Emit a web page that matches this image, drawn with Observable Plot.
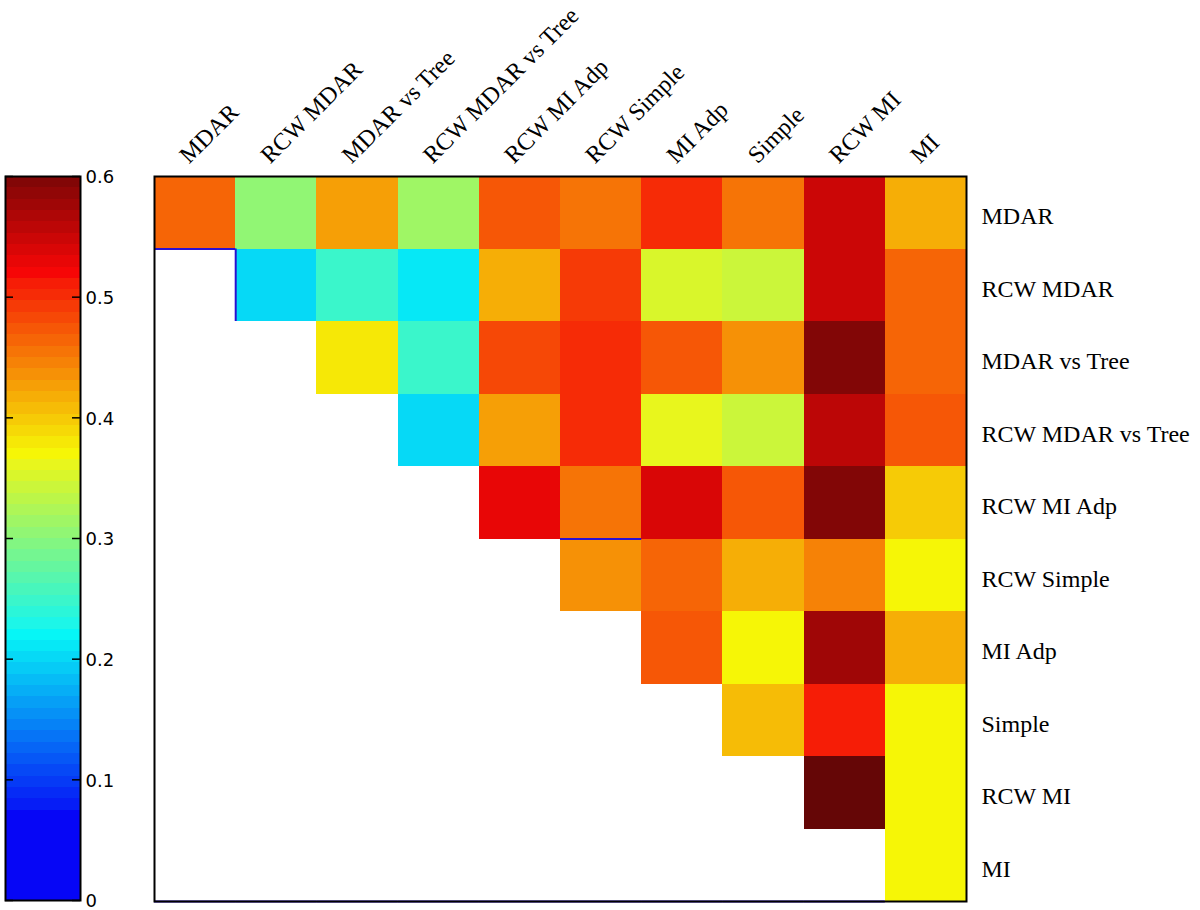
<!DOCTYPE html>
<html>
<head>
<meta charset="utf-8">
<script src="https://cdn.jsdelivr.net/npm/d3@7"></script>
<script src="https://cdn.jsdelivr.net/npm/@observablehq/plot@0.6"></script>
<style>
  html, body { margin: 0; padding: 0; background: #fff; }
  #wrap { position: relative; width: 1200px; height: 910px; overflow: hidden; }
  #wrap > svg { position: absolute; left: 0; top: 0; }
</style>
</head>
<body>
<div id="wrap"></div>
<script>
// ---------------- DATA ----------------
const methods = ["MDAR", "RCW MDAR", "MDAR vs Tree", "RCW MDAR vs Tree", "RCW MI Adp",
                 "RCW Simple", "MI Adp", "Simple", "RCW MI", "MI"];

// upper-triangular values, each row starts at its diagonal cell
const rowMDAR          = [0.464, 0.305, 0.427, 0.314, 0.473, 0.455, 0.502, 0.455, 0.548, 0.417];
const rowRCWMDAR       = [0.202, 0.248, 0.211, 0.417, 0.492, 0.352, 0.342, 0.548, 0.464];
const rowMDARvsTree    = [0.380, 0.248, 0.483, 0.502, 0.473, 0.436, 0.595, 0.464];
const rowRCWMDARvsTree = [0.202, 0.427, 0.502, 0.361, 0.342, 0.558, 0.473];
const rowRCWMIAdp      = [0.530, 0.455, 0.539, 0.473, 0.595, 0.399];
const rowRCWSimple     = [0.436, 0.464, 0.413, 0.445, 0.370];
const rowMIAdp         = [0.473, 0.370, 0.576, 0.417];
const rowSimple        = [0.408, 0.511, 0.372];
const rowRCWMI         = [0.615, 0.372];
const rowMI            = [0.372];

const colorTicks      = [0, 0.1, 0.2, 0.3, 0.4, 0.5, 0.6];
const colorTickLabels = ["0", "0.1", "0.2", "0.3", "0.4", "0.5", "0.6"];
const colorMax = 0.6;
const colorLevels = 64;

// edges of the masked (empty) region that show a blue outline in the original
const blueHEdges = [ {row: 1, col: 0}, {row: 5, col: 5}, {row: 10, col: 0}, {row: 10, col: 1}, {row: 10, col: 2},
                     {row: 10, col: 3}, {row: 10, col: 4}, {row: 10, col: 5}, {row: 10, col: 6}, {row: 10, col: 7}, {row: 10, col: 8} ];
const blueVEdges = [ {row: 1, col: 1} ];

// ---------------- BUILD ----------------
const rows = [rowMDAR, rowRCWMDAR, rowMDARvsTree, rowRCWMDARvsTree, rowRCWMIAdp,
              rowRCWSimple, rowMIAdp, rowSimple, rowRCWMI, rowMI];
const cells = rows.flatMap((arr, i) => arr.map((v, k) => ({r: i, c: i + k, v})));

// jet-like colormap quantised to 64 levels (bright blue at the bottom, dark red at the top)
function jet(t) {
  const K = Math.max(1, Math.floor(t * colorLevels + 1e-9) + 1);
  const s = K / colorLevels;
  const cl = x => Math.max(0, Math.min(1, x));
  const r = cl(1.5 - Math.abs(4 * s - 3));
  const g = cl(1.5 - Math.abs(4 * s - 2));
  const b = s < 0.375 ? 1 : cl(1.5 - Math.abs(4 * s - 1));
  const f = c => c === 0 ? 6 : 14 + 0.91 * 255 * c;
  return d3.rgb(f(r), f(g), f(b)).formatHex();
}
const colorOpts = {type: "linear", domain: [0, colorMax], interpolate: jet, clamp: false};

const W = 1200, H = 910;
const serif = "'Liberation Serif', 'Times New Roman', serif";

const heat = Plot.plot({
  width: W, height: H,
  marginLeft: 154, marginRight: 234, marginTop: 176, marginBottom: 9,
  x: {domain: [0, 10], axis: null},
  y: {domain: [0, 10], reverse: true, axis: null},
  color: colorOpts,
  style: {background: "transparent", overflow: "visible"},
  marks: [
    Plot.rect(cells, {x1: "c", x2: d => d.c + 1, y1: "r", y2: d => d.r + 1, fill: "v", shapeRendering: "crispEdges"}),
    Plot.ruleY(blueHEdges, {y: "row", x1: "col", x2: d => d.col + 1, stroke: "#2a10d0", strokeWidth: 2}),
    Plot.ruleX(blueVEdges, {x: "col", y1: "row", y2: d => d.row + 1, stroke: "#2a10d0", strokeWidth: 2}),
    Plot.frame({stroke: "#000", strokeWidth: 2}),
    Plot.text(methods, {
      x: (d, i) => i + 0.5, text: d => d, frameAnchor: "top",
      rotate: -45, textAnchor: "start", lineAnchor: "bottom",
      dx: -6, dy: -12, fontSize: 24, fontFamily: serif, fill: "#000"
    }),
    Plot.text(methods, {
      y: (d, i) => i + 0.5, text: d => d, frameAnchor: "right",
      textAnchor: "start", dx: 15, dy: 4, fontSize: 24, fontFamily: serif, fill: "#000"
    })
  ]
});

const levels = d3.range(colorLevels);
const bar = Plot.plot({
  width: 160, height: H,
  marginLeft: 5, marginRight: 80, marginTop: 176, marginBottom: 10,
  y: {domain: [0, colorMax], axis: null},
  color: colorOpts,
  style: {background: "transparent", overflow: "visible"},
  marks: [
    Plot.rect(levels, {y1: k => k * colorMax / colorLevels, y2: k => (k + 1) * colorMax / colorLevels,
                       fill: k => (k + 0.5) * colorMax / colorLevels, shapeRendering: "crispEdges"}),
    Plot.ruleY(colorTicks, {y: d => d, insetRight: 67, stroke: "#000", strokeWidth: 1.5}),
    Plot.ruleY(colorTicks, {y: d => d, insetLeft: 67, stroke: "#000", strokeWidth: 1.5}),
    Plot.frame({stroke: "#000", strokeWidth: 2}),
    Plot.text(colorTicks, {y: d => d, text: (d, i) => colorTickLabels[i], frameAnchor: "right",
                           textAnchor: "start", dx: 5, dy: 1, fontSize: 18,
                           fontFamily: "'DejaVu Sans', sans-serif", fill: "#000"})
  ]
});

const wrap = document.getElementById("wrap");
wrap.appendChild(heat);
wrap.appendChild(bar);
</script>
</body>
</html>
